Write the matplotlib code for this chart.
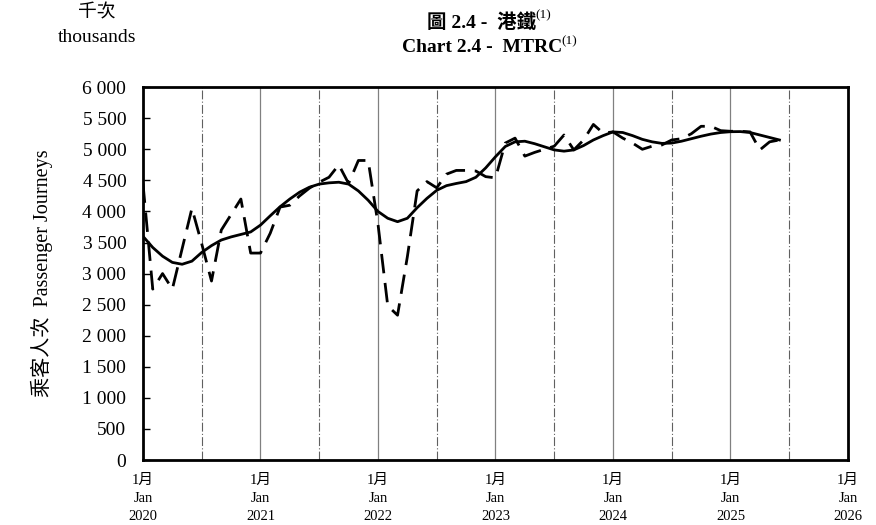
import numpy as np
import matplotlib
matplotlib.use('Agg')
import matplotlib.pyplot as plt

plt.rcParams['font.family'] = ['Liberation Serif', 'Noto Sans CJK TC']

# monthly passenger journeys (thousands), Jan 2020 - Jun 2025
actual = [4450, 2750, 3000, 2750, 3400, 4050, 3480, 2880, 3700, 3950, 4200, 3330,
          3330, 3650, 4070, 4100, 4250, 4375, 4470, 4550, 4750, 4450, 4820, 4820,
          3800, 2480, 2330, 3270, 4330, 4480, 4380, 4600, 4660, 4660, 4650, 4560,
          4540, 5100, 5180, 4890, 4950, 5000, 5050, 5230, 4990, 5150, 5400, 5260,
          5280, 5180, 5100, 5000, 5050, 5070, 5150, 5170, 5250, 5370, 5370, 5300,
          5290, 5290, 5280, 4990, 5120, 5150]
# trend
trend = [3600, 3420, 3280, 3180, 3150, 3200, 3340, 3450, 3540, 3590, 3630, 3670,
         3780, 3930, 4075, 4200, 4310, 4390, 4440, 4460, 4470, 4440, 4330, 4180,
         4000, 3890, 3835, 3890, 4060, 4210, 4340, 4415, 4450, 4480, 4550, 4700,
         4880, 5045, 5120, 5130, 5090, 5040, 4990, 4970, 4990, 5060, 5150, 5220,
         5280, 5270, 5220, 5160, 5120, 5095, 5100, 5130, 5170, 5210, 5245, 5270,
         5283, 5285, 5270, 5230, 5190, 5150]
years = ['2020', '2021', '2022', '2023', '2024', '2025', '2026']
yticks = [0, 500, 1000, 1500, 2000, 2500, 3000, 3500, 4000, 4500, 5000, 5500, 6000]

months = np.arange(len(actual))

fig = plt.figure(figsize=(8.76, 5.25), dpi=100)
ax = fig.add_axes([0.1632, 0.1238, 0.8048, 0.7102])

# vertical guides: solid at January, dash-dot at July
for m in range(12, 72, 12):
    ax.axvline(m, color='#808080', lw=0.9, zorder=1)
for m in range(6, 72, 12):
    ax.axvline(m, color='#606060', lw=0.8, ls=(0, (8, 2, 1, 2)), zorder=1)

ax.plot(months, actual, color='black', lw=2, dashes=(7, 3.5), zorder=3)
ax.plot(months, trend, color='black', lw=2, zorder=4)

ax.set_xlim(0, 72)
ax.set_ylim(0, 6000)
ax.set_xticks(range(0, 73, 12))
ax.set_xticklabels(['1月\nJan\n' + y for y in years], fontsize=10.5, linespacing=1.5)
ax.set_yticks(yticks)
ax.set_yticklabels([f'{v:,}'.replace(',', ' ') for v in yticks], fontsize=14)
ax.tick_params(axis='y', direction='in', length=5, width=1, pad=12)
ax.tick_params(axis='x', length=0, pad=10)
for s in ax.spines.values():
    s.set_linewidth(2)
    s.set_color('black')

ax.set_ylabel('乘客人次  Passenger Journeys', fontsize=14.5, labelpad=21)

fig.text(0.111, 0.975, '千次', ha='center', va='center', fontsize=13.5)
fig.text(0.111, 0.929, 'thousands', ha='center', va='center', fontsize=14)


def title_line(y, main, sup):
    t = fig.text(0.559, y, main, ha='center', va='center', fontsize=14,
                 fontweight='bold')
    fig.canvas.draw()
    bb = t.get_window_extent()
    W = fig.bbox.width
    H = fig.bbox.height
    s = fig.text((bb.x1 - 1) / W, (bb.y1 - 3) / H, sup, ha='left', va='center',
                 fontsize=9.5)
    sw = s.get_window_extent(fig.canvas.get_renderer()).width
    # shift both so the pair is centred
    dx = -sw / 2 / W
    t.set_x(t.get_position()[0] + dx)
    s.set_x(s.get_position()[0] + dx)


title_line(0.958, '圖 2.4 -  港鐵', '(1)')
title_line(0.91, 'Chart 2.4 -  MTRC', '(1)')

fig.savefig('out.png', dpi=100)
